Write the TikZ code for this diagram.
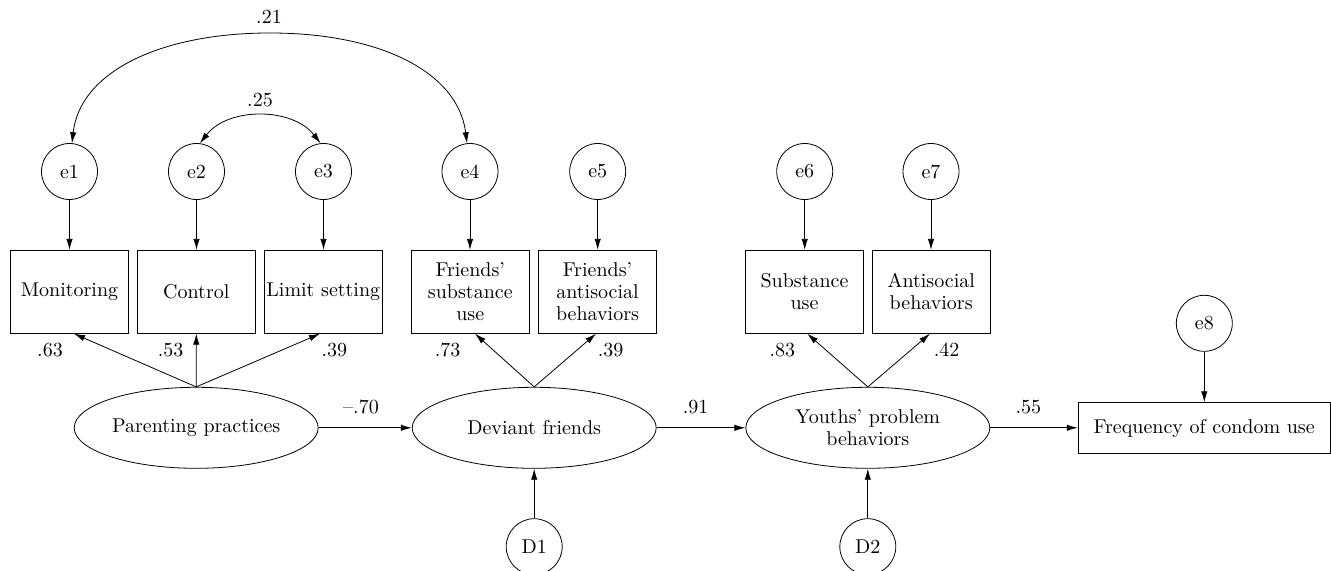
\documentclass[tikz,border=0pt]{standalone}
\usetikzlibrary{arrows.meta,shapes.geometric,calc}
\begin{document}
\begin{tikzpicture}[x=0.5pt,y=-0.5pt,
  font=\fontsize{10}{11}\selectfont,
  err/.style={draw,circle,minimum size=28pt,inner sep=0pt,line width=0.4pt},
  obs/.style={draw,rectangle,minimum width=59pt,minimum height=41.5pt,inner sep=1pt,align=center,line width=0.4pt},
  lat/.style={draw,ellipse,minimum width=122pt,minimum height=40.5pt,inner sep=0pt,align=center,line width=0.4pt},
  arr/.style={-{Latex[length=5.5pt,width=3.2pt]},line width=0.4pt},
  cov/.style={{Latex[length=5.5pt,width=3.2pt]}-{Latex[length=5.5pt,width=3.2pt]},line width=0.4pt},
  lbl/.style={inner sep=0pt}]
\useasboundingbox (0,0) rectangle (1331,571);
\clip (0,0) rectangle (1331,571);
% error terms
\node[err] (e1) at (69.5,171.5) {e1};
\node[err] (e2) at (196.5,171.5) {e2};
\node[err] (e3) at (323.5,171.5) {e3};
\node[err] (e4) at (470,171.5) {e4};
\node[err] (e5) at (597.7,171.5) {e5};
\node[err] (e6) at (804.7,171.5) {e6};
\node[err] (e7) at (931,171.5) {e7};
\node[err] (e8) at (1204.3,323.3) {e8};
% observed
\node[obs] (mon) at (69.5,291.8) {Monitoring};
\node[obs] (ctl) at (196.3,291.8) {Control};
\node[obs] (lim) at (323.3,291.8) {Limit setting};
\node[obs] (fsu) at (470.3,291.8) {Friends'\\substance\\use};
\node[obs] (fab) at (597.5,291.8) {Friends'\\antisocial\\behaviors};
\node[obs] (su) at (804.5,291.8) {Substance\\use};
\node[obs] (ab) at (931.2,291.8) {Antisocial\\behaviors};
\node[draw,rectangle,minimum width=126pt,minimum height=25.5pt,inner sep=1pt,line width=0.4pt] (fcu) at (1204.2,428.2) {Frequency of condom use};
% latent
\node[lat] (pp) at (196.2,427.8) {Parenting practices};
\node[lat] (df) at (534.2,427.8) {Deviant friends};
\node[lat] (yp) at (867.8,427.8) {Youths' problem\\behaviors};
% disturbances
\node[err] (d1) at (534.2,546.7) {D1};
\node[err] (d2) at (867.8,546.7) {D2};
% error arrows
\foreach \e/\b in {e1/mon,e2/ctl,e3/lim,e4/fsu,e5/fab,e6/su,e7/ab,e8/fcu}
  \draw[arr] (\e.south) -- (\e.south |- \b.north);
% loadings
\draw[arr] (pp.north) -- ([xshift=2.25pt]mon.south);
\draw[arr] (pp.north) -- (ctl.south);
\draw[arr] (pp.north) -- ([xshift=-1.65pt]lim.south);
\draw[arr] (df.north) -- ([xshift=2.35pt]fsu.south);
\draw[arr] (df.north) -- ([xshift=-0.75pt]fab.south);
\draw[arr] (yp.north) -- ([xshift=1.4pt]su.south);
\draw[arr] (yp.north) -- ([xshift=-0.6pt]ab.south);
% structural
\draw[arr] (pp.east) -- (df.west);
\draw[arr] (df.east) -- (yp.west);
\draw[arr] (yp.east) -- (yp.east -| fcu.west);
\draw[arr] (d1.north) -- (df.south);
\draw[arr] (d2.north) -- (yp.south);
% covariances
\draw[cov] (e4.96) .. controls (458,72) and (380,33) .. (270,33) .. controls (160,33) and (80,72) .. (e1.85);
\draw[cov] (e2.83) .. controls (228,107) and (292,107) .. (e3.96);
% labels
\node[lbl] (l21) at (269,17) {.21};
\node[lbl] (l25) at (260,100) {.25};
\node[lbl] (l63) at (50,350) {.63};
\node[lbl] (l53) at (170.7,350) {.53};
\node[lbl] (l39a) at (334.3,350) {.39};
\node[lbl] (l73) at (447.7,350) {.73};
\node[lbl] (l39b) at (610.7,350) {.39};
\node[lbl] (l83) at (782.3,350) {.83};
\node[lbl] (l42) at (946.7,350) {.42};
\node[lbl] (l70) at (361,406.7) {--.70};
\node[lbl] (l91) at (695.7,406.7) {.91};
\node[lbl] (l55) at (1028.3,406.7) {.55};
\end{tikzpicture}
\end{document}
